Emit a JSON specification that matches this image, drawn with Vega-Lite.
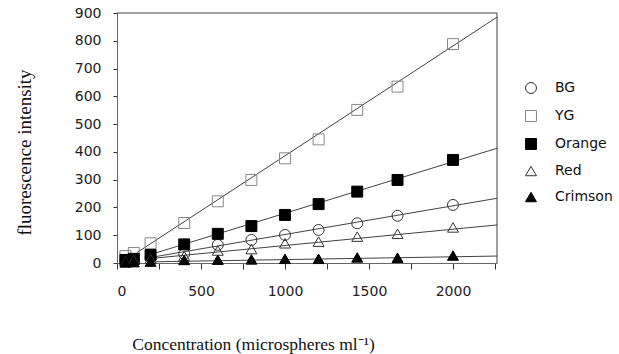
{
  "$schema": "https://vega.github.io/schema/vega-lite/v6.json",
  "autosize": "none",
  "padding": {"left": 117, "top": 13, "right": 122, "bottom": 91},
  "width": 380,
  "height": 250,
  "background": "white",
  "config": {
    "view": {"stroke": null},
    "axis": {"grid": false, "labelFont": "DejaVu Sans", "labelFontSize": 14, "labelColor": "#222", "domainColor": "#666", "tickColor": "#333", "titleFont": "Liberation Serif", "titleFontWeight": "normal", "titleColor": "#111", "format": "d", "labelOverlap": false}
  },
  "datasets": {
    "points": [
      {"conc": 50, "series": "BG", "value": 8}, {"conc": 100, "series": "BG", "value": 12}, {"conc": 200, "series": "BG", "value": 20}, {"conc": 400, "series": "BG", "value": 33}, {"conc": 600, "series": "BG", "value": 65}, {"conc": 800, "series": "BG", "value": 83}, {"conc": 1000, "series": "BG", "value": 101}, {"conc": 1200, "series": "BG", "value": 119}, {"conc": 1430, "series": "BG", "value": 143}, {"conc": 1670, "series": "BG", "value": 170}, {"conc": 2000, "series": "BG", "value": 209},
      {"conc": 50, "series": "YG", "value": 25}, {"conc": 100, "series": "YG", "value": 36}, {"conc": 200, "series": "YG", "value": 71}, {"conc": 400, "series": "YG", "value": 144}, {"conc": 600, "series": "YG", "value": 222}, {"conc": 800, "series": "YG", "value": 299}, {"conc": 1000, "series": "YG", "value": 377}, {"conc": 1200, "series": "YG", "value": 445}, {"conc": 1430, "series": "YG", "value": 551}, {"conc": 1670, "series": "YG", "value": 635}, {"conc": 2000, "series": "YG", "value": 788},
      {"conc": 50, "series": "Orange", "value": 11}, {"conc": 100, "series": "Orange", "value": 15}, {"conc": 200, "series": "Orange", "value": 29}, {"conc": 400, "series": "Orange", "value": 67}, {"conc": 600, "series": "Orange", "value": 105}, {"conc": 800, "series": "Orange", "value": 133}, {"conc": 1000, "series": "Orange", "value": 173}, {"conc": 1200, "series": "Orange", "value": 212}, {"conc": 1430, "series": "Orange", "value": 257}, {"conc": 1670, "series": "Orange", "value": 299}, {"conc": 2000, "series": "Orange", "value": 371},
      {"conc": 50, "series": "Red", "value": 6}, {"conc": 100, "series": "Red", "value": 10}, {"conc": 200, "series": "Red", "value": 16}, {"conc": 400, "series": "Red", "value": 25}, {"conc": 600, "series": "Red", "value": 45}, {"conc": 800, "series": "Red", "value": 50}, {"conc": 1000, "series": "Red", "value": 71}, {"conc": 1200, "series": "Red", "value": 77}, {"conc": 1430, "series": "Red", "value": 95}, {"conc": 1670, "series": "Red", "value": 105}, {"conc": 2000, "series": "Red", "value": 128},
      {"conc": 50, "series": "Crimson", "value": 2}, {"conc": 100, "series": "Crimson", "value": 3}, {"conc": 200, "series": "Crimson", "value": 5}, {"conc": 400, "series": "Crimson", "value": 11}, {"conc": 600, "series": "Crimson", "value": 12}, {"conc": 800, "series": "Crimson", "value": 13}, {"conc": 1000, "series": "Crimson", "value": 15}, {"conc": 1200, "series": "Crimson", "value": 15}, {"conc": 1430, "series": "Crimson", "value": 20}, {"conc": 1670, "series": "Crimson", "value": 19}, {"conc": 2000, "series": "Crimson", "value": 27}
    ],
    "fits": [
      {"conc": 120, "series": "YG", "value": 38}, {"conc": 2262, "series": "YG", "value": 885},
      {"conc": 180, "series": "Orange", "value": 27}, {"conc": 2262, "series": "Orange", "value": 413},
      {"conc": 180, "series": "BG", "value": 18}, {"conc": 2262, "series": "BG", "value": 233},
      {"conc": 180, "series": "Red", "value": 15}, {"conc": 2262, "series": "Red", "value": 137},
      {"conc": 180, "series": "Crimson", "value": 4}, {"conc": 2262, "series": "Crimson", "value": 25},
      {"conc": 0, "series": "frame", "value": 900}, {"conc": 2262, "series": "frame", "value": 900}, {"conc": 2262, "series": "frame", "value": 0}
    ]
  },
  "layer": [
    {
      "data": {"name": "fits"},
      "mark": {"type": "line", "color": "#111", "strokeWidth": 0.8},
      "encoding": {
        "x": {"field": "conc", "type": "quantitative", "scale": {"domain": [0, 2262], "nice": false, "zero": false},
          "axis": {"orient": "bottom", "values": [0, 250, 500, 750, 1000, 1250, 1500, 1750, 2000, 2250], "labelExpr": "datum.value % 500 === 0 && datum.value <= 2000 ? datum.label : ''", "tickSize": 6, "labelPadding": 15, "title": "Concentration (microspheres ml⁻¹)", "titleFontSize": 17.5, "titleX": 136, "titleY": 86, "titleAnchor": null, "titleAlign": "center", "titleBaseline": "alphabetic"}},
        "y": {"field": "value", "type": "quantitative", "scale": {"domain": [0, 900], "nice": false},
          "axis": {"orient": "left", "values": [0, 100, 200, 300, 400, 500, 600, 700, 800, 900], "tickSize": 4, "labelPadding": 12, "title": "fluorescence intensity", "titleFontSize": 19, "titleX": -87, "titleY": 139, "titleAngle": 270, "titleAlign": "center", "titleBaseline": "alphabetic"}},
        "detail": {"field": "series"},
        "order": {"field": "value", "sort": "descending"}
      }
    },
    {
      "data": {"name": "points"},
      "mark": {"type": "point", "filled": true, "opacity": 1, "strokeWidth": 1, "size": 120},
      "encoding": {
        "x": {"field": "conc", "type": "quantitative",
          "axis": {"orient": "bottom", "values": [0, 250, 500, 750, 1000, 1250, 1500, 1750, 2000, 2250], "labelExpr": "datum.value % 500 === 0 && datum.value <= 2000 ? datum.label : ''", "tickSize": 6, "labelPadding": 15, "title": "Concentration (microspheres ml⁻¹)", "titleFontSize": 17.5, "titleX": 136, "titleY": 86, "titleAnchor": null, "titleAlign": "center", "titleBaseline": "alphabetic"}},
        "y": {"field": "value", "type": "quantitative",
          "axis": {"orient": "left", "values": [0, 100, 200, 300, 400, 500, 600, 700, 800, 900], "tickSize": 4, "labelPadding": 12, "title": "fluorescence intensity", "titleFontSize": 19, "titleX": -87, "titleY": 139, "titleAngle": 270, "titleAlign": "center", "titleBaseline": "alphabetic"}},
        "shape": {"field": "series", "type": "nominal", "scale": {"domain": ["BG", "YG", "Orange", "Red", "Crimson"], "range": ["circle", "square", "square", "triangle-up", "triangle-up"]},
          "legend": {"title": null, "orient": "none", "legendX": 407, "legendY": 68, "symbolSize": 120, "rowPadding": 12, "labelOffset": 17, "labelFont": "DejaVu Sans", "labelFontSize": 14, "labelColor": "#111", "symbolStrokeWidth": 1}},
        "fill": {"field": "series", "type": "nominal", "scale": {"domain": ["BG", "YG", "Orange", "Red", "Crimson"], "range": ["transparent", "transparent", "#000", "transparent", "#000"]}, "legend": {"title": null, "orient": "none", "legendX": 407, "legendY": 68, "symbolSize": 120, "rowPadding": 12, "labelOffset": 17, "labelFont": "DejaVu Sans", "labelFontSize": 14, "labelColor": "#111", "symbolStrokeWidth": 1}},
        "stroke": {"field": "series", "type": "nominal", "scale": {"domain": ["BG", "YG", "Orange", "Red", "Crimson"], "range": ["#333", "#888", "#000", "#333", "#000"]}, "legend": {"title": null, "orient": "none", "legendX": 407, "legendY": 68, "symbolSize": 120, "rowPadding": 12, "labelOffset": 17, "labelFont": "DejaVu Sans", "labelFontSize": 14, "labelColor": "#111", "symbolStrokeWidth": 1}}
      }
    }
  ]
}
